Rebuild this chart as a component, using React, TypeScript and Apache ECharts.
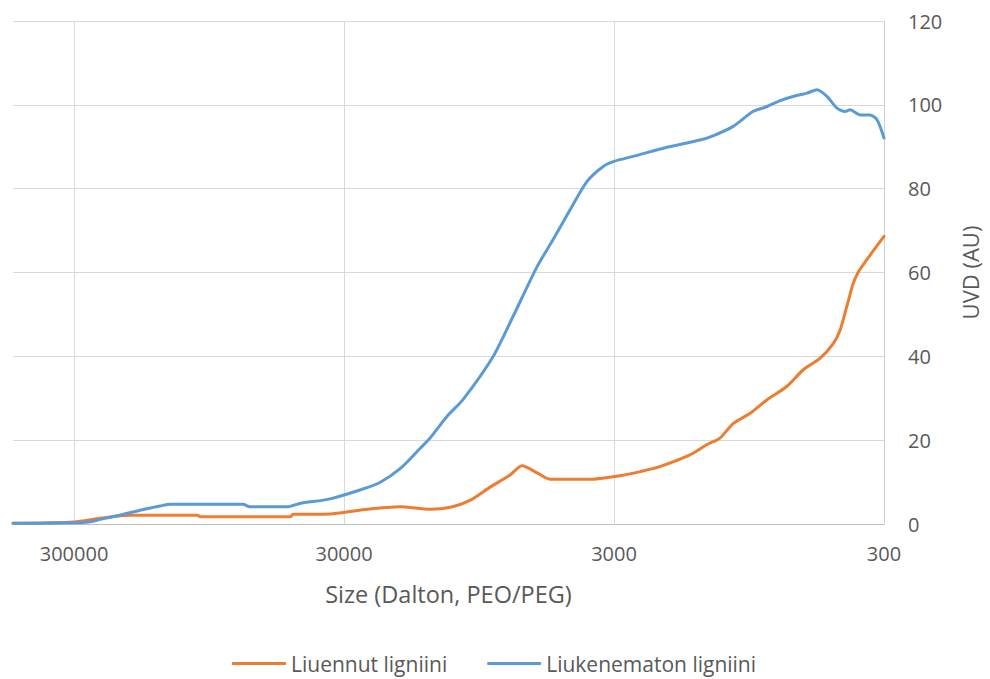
import React, { useEffect, useRef } from "react";
import * as echarts from "echarts";

// X values are molecular sizes in Dalton (PEO/PEG), Y values UVD (AU)
const liuennutSize = [505000, 300000, 240000, 186000, 105000, 102000, 47500, 46400, 33800, 26200, 18600, 14400, 12100, 10200, 8630, 7280, 6580, 5780, 5180, 3590, 2850, 2400, 2030, 1570, 1360, 1215, 1084, 940, 815, 688, 597, 518, 462, 436, 412, 390, 373, 348, 300];
const liuennutValue = [0.2, 0.5, 1.4, 2.1, 2.1, 1.7, 1.7, 2.3, 2.4, 3.3, 4.1, 3.5, 4.0, 5.7, 8.8, 11.7, 13.9, 12.2, 10.7, 10.7, 11.5, 12.5, 13.7, 16.5, 18.9, 20.5, 24.0, 26.4, 29.6, 32.8, 36.8, 39.5, 43.1, 46.3, 51.9, 57.4, 60.2, 63.0, 68.6];

const liukenematonSize = [505000, 401000, 300000, 265000, 240000, 203000, 171000, 144000, 132000, 71000, 67000, 48800, 43700, 33800, 26200, 22100, 18600, 15700, 14400, 12500, 10900, 8420, 7100, 5780, 5050, 4370, 3780, 3290, 3000, 2550, 1910, 1440, 1290, 1090, 917, 813, 728, 652, 578, 531, 488, 448, 418, 401, 368, 338, 318, 300];
const liukenematonValue = [0.2, 0.2, 0.3, 0.5, 1.1, 2.1, 3.3, 4.3, 4.7, 4.7, 4.1, 4.1, 4.9, 6.0, 8.1, 9.9, 13.2, 18.0, 20.5, 25.6, 29.6, 39.9, 49.5, 61.4, 67.8, 74.9, 81.7, 85.3, 86.5, 87.7, 89.9, 91.6, 92.6, 94.8, 98.4, 99.6, 101.0, 102.0, 102.8, 103.6, 102.0, 99.2, 98.4, 98.8, 97.6, 97.6, 96.4, 92.1];

const sizeBase = 300; // x tick labels: 300, 3000, 30000, 300000
const sizeMaxDalton = 505000;
const yTicks = { min: 0, max: 120, interval: 20 };

const seriesNames = ["Liuennut ligniini", "Liukenematon ligniini"];
const colors = ["#ED7D31", "#5B9BD5"];

const toLog = (s: number) => Math.log10(s / sizeBase);

export default function App() {
  const ref = useRef<HTMLDivElement>(null);
  useEffect(() => {
    if (!ref.current) return;
    const chart = echarts.init(ref.current, null, { renderer: "svg" });
    const font = "'Open Sans', sans-serif";
    const textColor = "#595959";
    chart.setOption({
      animation: false,
      textStyle: { fontFamily: font },
      grid: { left: 13, right: 106, top: 21, bottom: 155, containLabel: false },
      legend: {
        bottom: 0,
        left: 227,
        icon: "roundRect",
        itemWidth: 54,
        itemHeight: 3,
        itemGap: 40,
        textStyle: { color: textColor, fontSize: 21, fontFamily: font },
        data: seriesNames,
      },
      xAxis: {
        type: "value",
        inverse: true,
        min: 0,
        max: toLog(sizeMaxDalton),
        interval: 1,
        name: "Size (Dalton, PEO/PEG)",
        nameLocation: "middle",
        nameGap: 58,
        nameTextStyle: { color: textColor, fontSize: 23.5, fontFamily: font },
        axisLine: { show: true, lineStyle: { color: "#bfbfbf", width: 1 } },
        axisTick: { show: false },
        axisLabel: {
          color: textColor,
          fontSize: 20,
          fontFamily: font,
          margin: 19,
          showMaxLabel: false,
          formatter: (v: number) =>
            Math.abs(v - Math.round(v)) < 1e-6 ? String(Math.round(sizeBase * Math.pow(10, Math.round(v)))) : "",
        },
        splitLine: { show: true, showMaxLine: false, lineStyle: { color: "#d9d9d9", width: 1 } },
      },
      yAxis: {
        type: "value",
        position: "right",
        min: yTicks.min,
        max: yTicks.max,
        interval: yTicks.interval,
        name: "UVD (AU)",
        nameLocation: "middle",
        nameGap: 75,
        nameRotate: 90,
        nameTextStyle: { color: textColor, fontSize: 22, fontFamily: font },
        axisLine: { show: true, lineStyle: { color: "#d0d0d0", width: 1 } },
        axisTick: { show: false },
        axisLabel: { color: textColor, fontSize: 20, fontFamily: font, margin: 24 },
        splitLine: { show: true, lineStyle: { color: "#d9d9d9", width: 1 } },
      },
      series: [
        {
          name: seriesNames[0],
          type: "line",
          symbol: "none",
          smooth: 0.25,
          color: colors[0],
          lineStyle: { color: colors[0], width: 3, cap: "round", join: "round" },
          data: liuennutSize.map((s, i) => [toLog(s), liuennutValue[i]]),
        },
        {
          name: seriesNames[1],
          type: "line",
          symbol: "none",
          smooth: 0.25,
          color: colors[1],
          lineStyle: { color: colors[1], width: 3, cap: "round", join: "round" },
          data: liukenematonSize.map((s, i) => [toLog(s), liukenematonValue[i]]),
        },
      ],
    });
    return () => chart.dispose();
  }, []);
  return <div ref={ref} style={{ position: "fixed", left: 0, top: 0, width: 990, height: 679, background: "#fff" }} />;
}
